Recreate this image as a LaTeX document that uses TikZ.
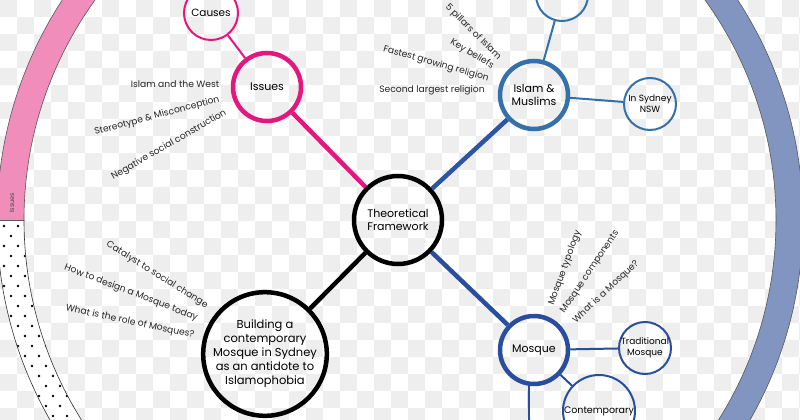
\documentclass[tikz,border=0pt]{standalone}
\usepackage{fontspec}
\setmainfont{Poppins}
\definecolor{mag}{HTML}{E4177F}
\definecolor{pinkband}{HTML}{F08DBB}
\definecolor{islamblue}{HTML}{3470AA}
\definecolor{mosqueblue}{HTML}{2A4E9E}
\definecolor{lineblue}{HTML}{2D55A3}
\definecolor{bandblue}{HTML}{8294C0}
\definecolor{checker}{HTML}{EEEEEE}
\begin{document}
\begin{tikzpicture}[x=1pt,y=-1pt,
  mainc/.style={circle,draw,line width=4.5pt,inner sep=0pt,align=center,font=\fontsize{11}{13}\selectfont},
  subc/.style={circle,draw,line width=2pt,inner sep=0pt,align=center,font=\fontsize{9}{11}\selectfont},
  lbl/.style={inner sep=0pt,font=\fontsize{9.2}{11}\selectfont,text=black!85},
  thicklink/.style={line width=4.5pt},
  thinlink/.style={line width=2pt},
  bandedge/.style={draw=black!65,line width=0.6pt}]
\useasboundingbox (0,0) rectangle (800,420);
\fill[white] (0,0) rectangle (800,420);
\foreach \i in {0,...,47}{\foreach \j in {0,...,24}{%
  \pgfmathtruncatemacro\p{mod(\i+\j,2)}%
  \ifnum\p=0 \fill[checker] (\i*17,\j*17) rectangle ++(17,17);\fi}}
% ring: pink segment
\begin{scope}
\clip (-10,-10) rectangle (400,220);
\fill[pinkband,even odd rule] (400,220) circle[radius=403] (400,220) circle[radius=376];
\draw[bandedge] (400,220) circle[radius=403] (400,220) circle[radius=376];
\end{scope}
% ring: dotted segment
\begin{scope}[even odd rule]
\clip (-10,220) rectangle (400,430);
\clip (400,220) circle[radius=403] (400,220) circle[radius=376];
\fill[white] (-10,220) rectangle (400,430);
\foreach \r in {0,...,21}{\foreach \c in {0,...,8}{%
  \fill ({\c*14+mod(\r,2)*7+4},{226+\r*10}) circle[radius=1.3];}}
\end{scope}
\begin{scope}
\clip (-10,220) rectangle (400,430);
\draw[bandedge,draw=black!80] (400,220) circle[radius=403] (400,220) circle[radius=376];
\end{scope}
\draw[bandedge] (-4,220) -- (24,220);
% ring: blue segment
\begin{scope}
\clip (400,-10) rectangle (810,430);
\fill[bandblue,even odd rule] (400,220) circle[radius=403] (400,220) circle[radius=376];
\draw[bandedge] (400,220) circle[radius=403] (400,220) circle[radius=376];
\end{scope}
\node[rotate=90,inner sep=0pt,font=\fontsize{6.5}{7}\selectfont,text=black!70] (ringlbl) at (12,203) {Issues};
% nodes
\node[mainc,minimum size=88pt] (theo) at (398,220) {Theoretical\\Framework};
\node[mainc,draw=mag,minimum size=68pt] (issues) at (267,87) {Issues};
\node[subc,draw=mag,minimum size=54pt,font=\fontsize{10.5}{12}\selectfont] (causes) at (211,13) {Causes};
\node[mainc,draw=islamblue,minimum size=68pt] (islam) at (534,95) {Islam \&\\Muslims};
\node[subc,draw=islamblue,minimum size=52pt] (topc) at (562,-5) {};
\node[subc,draw=islamblue,minimum size=52pt] (sydney) at (650,104) {In Sydney\\NSW};
\node[mainc,draw=mosqueblue,minimum size=68pt] (mosque) at (534,350) {Mosque};
\node[subc,draw=mosqueblue,minimum size=52pt] (trad) at (645,348) {Traditional\\Mosque};
\node[subc,draw=mosqueblue,minimum size=72pt,font=\fontsize{9.5}{11}\selectfont] (contemp) at (599,411) {Contemporary};
\node[mainc,minimum size=118pt,font=\fontsize{11.5}{14}\selectfont] (build) at (265,354) {Building a\\contemporary\\Mosque in Sydney\\as an antidote to\\Islamophobia};
\coordinate (mdown) at (529,425);
% connectors
\draw[mag,thicklink] (issues) -- (theo);
\draw[mag,thinlink] (causes) -- (issues);
\draw[lineblue,thicklink] (theo) -- (islam);
\draw[islamblue,thinlink] (topc) -- (islam);
\draw[islamblue,thinlink] (islam) -- (sydney);
\draw[mosqueblue,thicklink] (theo) -- (mosque);
\draw[mosqueblue,thinlink] (mosque) -- (trad);
\draw[mosqueblue,thinlink] (mosque) -- (contemp);
\draw[mosqueblue,thinlink] (mosque.-98) -- (mdown);
\draw[black,thicklink] (theo) -- (build);
% labels
\node[lbl] (l1) at (175,84) {Islam and the West};
\node[lbl,rotate=15] (l2) at (157,116) {Stereotype \& Misconception};
\node[lbl,rotate=30] (l3) at (169,145) {Negative social construction};
\node[lbl] (l4) at (432,90) {Second largest religion};
\node[lbl,rotate=-16] (l5) at (436,64) {Fastest growing religion};
\node[lbl,rotate=-31] (l6) at (472,54) {Key beliefs};
\node[lbl,rotate=-45] (l7) at (473,32) {5 pillars of Islam};
\node[lbl,rotate=70] (l8) at (565,268) {Mosque typology};
\node[lbl,rotate=56] (l9) at (590,272) {Mosque components};
\node[lbl,rotate=43] (l10) at (606,292) {What is a Mosque?};
\node[lbl,rotate=-32] (l11) at (157,275) {Catalyst to social change};
\node[lbl,rotate=-21] (l12) at (131,293) {How to design a Mosque today};
\node[lbl,rotate=-12] (l13) at (130,322) {What is the role of Mosques?};
\end{tikzpicture}
\end{document}
